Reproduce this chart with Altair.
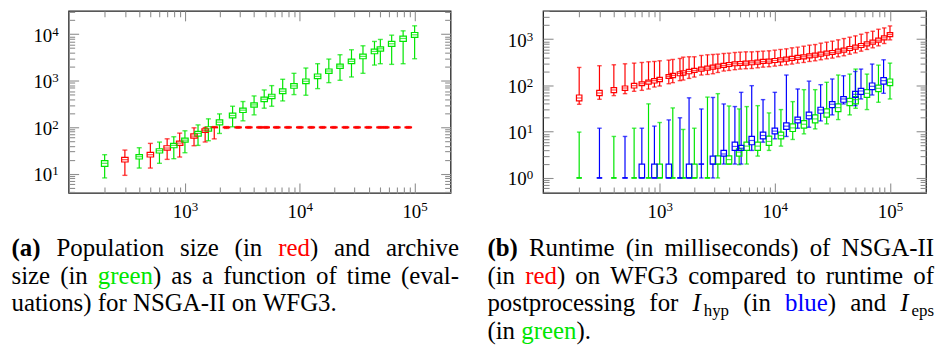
import altair as alt
import pandas as pd

FONT = "Liberation Serif"
RED, GREEN, BLUE = "#ff0000", "#00e600", "#0000ff"

# ---------------- x positions (evaluations) ----------------
x_even = [200, 400, 600, 800, 1000, 1300, 1600, 2000, 2600, 3200, 4000, 4900, 5700,
          7100, 8900, 11300, 14300, 17900, 22400, 28200, 35500, 44700, 50300, 63100,
          79400, 100000]
x_odd = [300, 500, 700, 900, 1200, 1500, 1800, 2300, 2900, 3600, 4500, 5100, 6300,
         7900, 10000, 12600, 15800, 19800, 25000, 31500, 39500, 50000, 56000, 70000,
         88000]
x_run = [200, 300, 400, 500, 600, 700, 800, 900, 1000, 1200, 1300, 1500, 1600, 1800,
         2000, 2300, 2600, 2900, 3200, 3600, 4000, 4500,
         5000, 5600, 6300, 7100, 7900, 8900, 10000, 11200, 12600, 14100, 15800, 17800,
         20000, 22400, 25100, 28200, 31600, 35500, 39800, 44700, 50100, 56200, 63100,
         70800, 79400, 89100, 100000]

# ---------------- panel (a): archive size (green) ----------------
a_arch_lo = [8.1, 13.2, 16.7, 21.0, 28.2, 40.6, 51.1, 73.3, 102, 137, 184, 256, 282,
             367, 502, 486, 675, 908, 1019, 1202, 1439, 2168, 2317, 2244, 2317, 2965]
a_arch_q1 = [14.4, 20.7, 27.8, 36.1, 47.8, 64.3, 82.2, 112, 159, 207, 269, 356, 412,
             527, 687, 865, 1104, 1439, 1841, 2317, 2965, 3793, 4325, 5445, 6982, 8511]
a_arch_med = [16.7, 23.2, 31.2, 40.6, 52.7, 73.3, 92.0, 128, 178, 232, 301, 399, 462,
              592, 771, 971, 1239, 1614, 2065, 2600, 3327, 4256, 4853, 6223, 8091, 9705]
a_arch_q3 = [19.0, 25.6, 34.4, 44.8, 58.2, 80.9, 102, 144, 200, 256, 333, 441, 511,
             664, 865, 1086, 1393, 1782, 2280, 2917, 3733, 4775, 5358, 6982, 9078, 10864]
a_arch_hi = [25.6, 36.1, 47.8, 62.2, 83.6, 112, 151, 193, 282, 356, 470, 632, 783,
             1072, 1439, 1871, 2317, 2917, 3614, 4624, 5636, 6982, 7709, 9528, 11803, 15136]

# ---------------- panel (a): population size (red) ----------------
a_pop_lo = [9.2, 13.2, 20.3, 22.8, 39.9, 48, 56, 94, 95, 95, 95, 95, 95,
            95, 95, 95, 95, 95, 95, 95, 95, 95, 95, 95, 95]
a_pop_q1 = [17.8, 22.8, 32.2, 40.6, 58.2, 77, 97, 97, 97, 97, 97, 97, 97,
            97, 97, 97, 97, 97, 97, 97, 97, 97, 97, 97, 97]
a_pop_med = [20.0, 25.6, 35.6, 45.5, 64.3, 84, 99, 99, 99, 99, 99, 99, 99,
             99, 99, 99, 99, 99, 99, 99, 99, 99, 99, 99, 99]
a_pop_q3 = [22.4, 28.7, 39.9, 50.2, 72.1, 92, 101, 101, 101, 101, 101, 101, 101,
            101, 101, 101, 101, 101, 101, 101, 101, 101, 101, 101, 101]
a_pop_hi = [32.2, 44.8, 56.2, 74.5, 96.8, 98, 103, 103, 103, 103, 103, 103, 103,
            103, 103, 103, 103, 103, 103, 103, 103, 103, 103, 103, 103]

# ---------------- panel (b): NSGA-II runtime (red) ----------------
b_run_lo = [39.2, 50.2, 60.3, 66.5, 74.7, 78.4, 83.8, 92.5, 97.3, 109, 115, 127, 131,
            142, 152, 168, 173, 179, 191, 205, 211, 219,
            226, 230, 233, 241, 249, 254, 262, 271, 280, 290, 304, 314, 330, 341, 359,
            377, 390, 417, 438, 475, 507, 552, 600, 651, 718, 807, 968]
b_run_q1 = [46.2, 60.3, 69.8, 78.4, 88.1, 98.9, 107, 113, 121, 142, 147, 162, 168,
            179, 191, 205, 215, 226, 237, 245, 258, 267,
            271, 275, 280, 290, 299, 304, 314, 325, 336, 347, 365, 377, 396, 409, 431,
            452, 468, 499, 525, 570, 610, 662, 718, 780, 862, 968, 1141]
b_run_med = [53.6, 68.7, 79.8, 88.1, 98.9, 109, 121, 127, 135, 157, 165, 182, 188,
             201, 211, 226, 237, 249, 262, 271, 285, 294,
             299, 304, 309, 320, 330, 336, 347, 359, 371, 383, 403, 417, 438, 452, 475,
             499, 516, 552, 580, 630, 673, 730, 793, 862, 952, 1069, 1262]
b_run_q3 = [62.2, 78.4, 89.5, 97.3, 111, 119, 131, 140, 149, 171, 182, 198, 208,
            222, 233, 249, 262, 275, 290, 299, 314, 325,
            330, 336, 341, 353, 365, 371, 383, 396, 409, 424, 445, 460, 483, 499, 525,
            552, 570, 610, 640, 695, 743, 807, 877, 952, 1051, 1180, 1393]
b_run_hi = [245, 267, 280, 294, 304, 314, 325, 330, 341, 353, 365, 383, 409,
            417, 417, 445, 460, 468, 475, 491, 499, 516,
            525, 533, 533, 542, 552, 561, 580, 600, 619, 651, 673, 706, 743, 767, 821,
            862, 906, 968, 1033, 1104, 1180, 1282, 1393, 1486, 1641, 1754, 1936]

# ---------------- panel (b): I_eps postprocessing (green) ----------------
b_eps_lo = [1, 1, 1, 1, 1, 1, 1, 1, 1, 1, 2, 1.94, 2.0, 2.97, 3.94, 4.88, 6.79, 8.99,
            11.5, 14.8, 18.3, 23.1, 32.1, 30.1, 43.3, 51]
b_eps_q1 = [1, 1, 1, 1, 1, 1, 1, 1, 1, 2, 2, 2.97, 3.94, 3.94, 5.05, 7.02, 10.1, 11.9,
            15.5, 20.6, 27.2, 36.6, 39.8, 55.5, 73.5, 98.9]
b_eps_med = [1, 1, 1, 1, 1, 1, 1, 1, 1, 2, 2.5, 3.62, 4.88, 4.88, 6.15, 8.28, 12.1,
             14.5, 18.9, 25.5, 33.2, 44.7, 49.4, 67.6, 86.7, 117]
b_eps_q3 = [1, 1, 1, 1, 2, 1, 1, 2, 1, 3, 3, 4.27, 5.95, 5.95, 8.02, 9.77, 14.8, 17.4,
            23.1, 31.1, 39.8, 52.8, 57.3, 81.1, 102, 138]
b_eps_hi = [9.8, 7.9, 11.9, 40, 15.8, 32.7, 11.2, 11.9, 56, 66.5, 36, 31.1, 34.9, 36.6,
            25.5, 30.1, 44.7, 81.1, 81.1, 117, 168, 176, 226, 176, 275, 304]

# ---------------- panel (b): I_hyp postprocessing (blue) ----------------
b_hyp_lo = [1, 1, 1, 1, 1, 1, 1, 1, 1, 2, 2, 2, 3.94, 5.95, 7.02, 7.89, 11.9, 12.5,
            17.1, 23.1, 39.8, 36.6, 51, 62.2, 67.6]
b_hyp_q1 = [1, 1, 1, 1, 1, 1, 1, 2, 2, 2.97, 3.94, 3.94, 5.22, 7.02, 8.99, 11.2, 15.5,
            18.9, 25.1, 33.2, 43.3, 55.5, 64.3, 81.1, 107]
b_hyp_med = [1, 1, 1, 1, 1, 1, 1, 2, 2, 3.3, 4.8, 4.4, 6.46, 8.28, 10.3, 13.2, 18.3,
             22.3, 29.6, 39.2, 51, 64.3, 75.9, 95.7, 127]
b_hyp_q3 = [1, 1, 2, 2, 2, 1, 2, 2, 2.97, 3.94, 5.95, 5.05, 7.89, 9.77, 11.9, 15.5,
            20.6, 26.4, 33.8, 44.7, 57.3, 74.7, 86.7, 113, 147]
b_hyp_hi = [11.9, 7.9, 11.9, 13.2, 18, 20, 54, 31, 55, 39.8, 35, 71, 99, 49.4, 71, 168,
            83.8, 124, 104, 138, 162, 201, 226, 290, 359]

# ---------------- axes ----------------
x_domain = [107.4, 186200]
a_y_domain = [3.855, 31700]
b_y_domain = [0.475, 4093]
x_major = [1000, 10000, 100000]
a_y_major = [10, 100, 1000, 10000]
b_y_major = [1, 10, 100, 1000]
x_ticks = [200, 300, 400, 500, 600, 700, 800, 900, 1000, 2000, 3000, 4000, 5000, 6000,
           7000, 8000, 9000, 10000, 20000, 30000, 40000, 50000, 60000, 70000, 80000,
           90000, 100000]
a_y_ticks = [4, 5, 6, 7, 8, 9, 10, 20, 30, 40, 50, 60, 70, 80, 90, 100, 200, 300, 400,
             500, 600, 700, 800, 900, 1000, 2000, 3000, 4000, 5000, 6000, 7000, 8000,
             9000, 10000, 20000, 30000]
b_y_ticks = [0.5, 0.6, 0.7, 0.8, 0.9, 1, 2, 3, 4, 5, 6, 7, 8, 9, 10, 20, 30, 40, 50, 60,
             70, 80, 90, 100, 200, 300, 400, 500, 600, 700, 800, 900, 1000, 2000, 3000,
             4000]

# ---------------- captions (word groups; pieces = text, colour, weight, kind) ----------------
cap_a_lines = [
    (255, True, [[("(a)", "#000", "bold", "n")], [("Population", "#000", "normal", "n")],
                 [("size", "#000", "normal", "n")], [("(in", "#000", "normal", "n")],
                 [("red", RED, "normal", "n"), (")", "#000", "normal", "n")],
                 [("and", "#000", "normal", "n")], [("archive", "#000", "normal", "n")]]),
    (283, True, [[("size", "#000", "normal", "n")], [("(in", "#000", "normal", "n")],
                 [("green", GREEN, "normal", "n"), (")", "#000", "normal", "n")],
                 [("as", "#000", "normal", "n")], [("a", "#000", "normal", "n")],
                 [("function", "#000", "normal", "n")], [("of", "#000", "normal", "n")],
                 [("time", "#000", "normal", "n")], [("(eval-", "#000", "normal", "n")]]),
    (310, False, [[("uations)", "#000", "normal", "n")], [("for", "#000", "normal", "n")],
                  [("NSGA-II", "#000", "normal", "n")], [("on", "#000", "normal", "n")],
                  [("WFG3.", "#000", "normal", "n")]]),
]
cap_b_lines = [
    (255, True, [[("(b)", "#000", "bold", "n")], [("Runtime", "#000", "normal", "n")],
                 [("(in", "#000", "normal", "n")], [("milliseconds)", "#000", "normal", "n")],
                 [("of", "#000", "normal", "n")], [("NSGA-II", "#000", "normal", "n")]]),
    (283, True, [[("(in", "#000", "normal", "n")],
                 [("red", RED, "normal", "n"), (")", "#000", "normal", "n")],
                 [("on", "#000", "normal", "n")], [("WFG3", "#000", "normal", "n")],
                 [("compared", "#000", "normal", "n")], [("to", "#000", "normal", "n")],
                 [("runtime", "#000", "normal", "n")], [("of", "#000", "normal", "n")]]),
    (310, True, [[("postprocessing", "#000", "normal", "n")], [("for", "#000", "normal", "n")],
                 [("I", "#000", "normal", "m"), ("hyp", "#000", "normal", "s")],
                 [("(in", "#000", "normal", "n")],
                 [("blue", BLUE, "normal", "n"), (")", "#000", "normal", "n")],
                 [("and", "#000", "normal", "n")],
                 [("I", "#000", "normal", "m"), ("eps", "#000", "normal", "s")]]),
    (338, False, [[("(in", "#000", "normal", "n")],
                  [("green", GREEN, "normal", "n"), (").", "#000", "normal", "n")]]),
]

CAP_FS = 25
SUB_FS = 17
# Times/Liberation Serif advance widths (1/1000 em), used only to space caption words
TW = {' ': 250, '(': 333, ')': 333, '-': 333, '.': 250, 'A': 722, 'G': 722, 'I': 333,
      'N': 722, 'P': 556, 'R': 667, 'S': 556, 'W': 944, 'F': 556,
      'a': 444, 'b': 500, 'c': 444, 'd': 500, 'e': 444, 'f': 333, 'g': 500, 'h': 500,
      'i': 278, 'l': 278, 'm': 778, 'n': 500, 'o': 500, 'p': 500, 'r': 333, 's': 389,
      't': 278, 'u': 500, 'v': 500, 'y': 500, 'z': 444}
TWB = {'(': 333, ')': 333, 'a': 500, 'b': 556}


def piece_w(t, weight, kind):
    if kind == "m":
        return 0.45 * CAP_FS
    fs = SUB_FS if kind == "s" else CAP_FS
    tab = TWB if weight == "bold" else TW
    return sum(tab.get(ch, TW.get(ch, 500)) for ch in t) * fs / 1000.0


def layout(lines, x0, x1, ox, oy):
    out = []
    for base_y, justify, words in lines:
        widths = [sum(piece_w(t, w, k) for t, c, w, k in wd) for wd in words]
        if justify and len(words) > 1:
            gap = (x1 - x0 - sum(widths)) / (len(words) - 1)
        else:
            gap = TW[' '] * CAP_FS / 1000.0
        x = x0
        for wd, ww in zip(words, widths):
            px = x
            for t, c, w, k in wd:
                out.append(dict(t=t, x=px - ox, y=base_y - oy + (5 if k == "s" else 0),
                                c=c, w=w, fs=SUB_FS if k == "s" else CAP_FS,
                                st="italic" if k == "m" else "normal"))
                px += piece_w(t, w, k)
            x += ww + gap
    return out


def boxes(series, xs, lo, q1, med, q3, hi):
    return pd.DataFrame({"s": series, "x": xs, "lo": lo, "q1": q1, "med": med,
                         "q3": q3, "hi": hi})


df_a = pd.concat([
    boxes("red", x_odd, a_pop_lo, a_pop_q1, a_pop_med, a_pop_q3, a_pop_hi),
    boxes("green", x_even, a_arch_lo, a_arch_q1, a_arch_med, a_arch_q3, a_arch_hi),
], ignore_index=True)
df_b = pd.concat([
    boxes("red", x_run, b_run_lo, b_run_q1, b_run_med, b_run_q3, b_run_hi),
    boxes("green", x_even, b_eps_lo, b_eps_q1, b_eps_med, b_eps_q3, b_eps_hi),
    boxes("blue", x_odd, b_hyp_lo, b_hyp_q1, b_hyp_med, b_hyp_q3, b_hyp_hi),
], ignore_index=True)

cscale = alt.Scale(domain=["red", "green", "blue"], range=[RED, GREEN, BLUE])
EXP = "'' + round(log(datum.value)/LN10)"
MAJ = "abs(log(datum.value)/LN10 - round(log(datum.value)/LN10)) < 0.01"


def panel(df, W, H, ydom, ymajor, yticks, box_w, cap_w, texts_spec):
    xs = alt.Scale(type="log", domain=x_domain, nice=False)
    ys = alt.Scale(type="log", domain=ydom, nice=False)
    col = alt.Color("s:N", scale=cscale, legend=None)
    tick_kw = dict(labels=False, domain=False, grid=False,
                   tickSize={"condition": {"test": MAJ, "value": 10}, "value": 6},
                   tickColor="#8f8f8f", tickWidth=1.1)
    lab_kw = dict(ticks=False, tickSize=0, domain=False, grid=False, labelFont=FONT,
                  labelColor="#000", labelOverlap=False, labelFlush=False,
                  labelBaseline="alphabetic")
    base = alt.Chart(df)
    main = base.mark_rule(strokeWidth=1.2).encode(
        x=alt.X("x:Q", scale=xs, title=None,
                axis=alt.Axis(orient="bottom", values=x_major, labelExpr="'10'",
                              labelFontSize=19, labelPadding=25, labelOffset=-3.3,
                              labelAlign="center", **lab_kw)),
        y=alt.Y("lo:Q", scale=ys, title=None,
                axis=alt.Axis(orient="left", values=ymajor, labelExpr="'10'",
                              labelFontSize=19, labelPadding=17, labelOffset=7,
                              labelAlign="right", **lab_kw)),
        y2="q1:Q", color=col)
    ticks1 = base.mark_rule(opacity=0).encode(
        x=alt.X("x:Q", scale=xs, title=None,
                axis=alt.Axis(orient="top", offset=-H, values=x_ticks, **tick_kw)),
        y=alt.Y("lo:Q", scale=ys, title=None,
                axis=alt.Axis(orient="right", offset=-W, values=yticks, **tick_kw)))
    ticks2 = base.mark_rule(opacity=0).encode(
        x=alt.X("x:Q", scale=xs, title=None,
                axis=alt.Axis(orient="bottom", offset=-H, values=x_ticks, **tick_kw)),
        y=alt.Y("lo:Q", scale=ys, title=None,
                axis=alt.Axis(orient="left", offset=-W, values=yticks, **tick_kw)))
    expo = base.mark_rule(opacity=0).encode(
        x=alt.X("x:Q", scale=xs, title=None,
                axis=alt.Axis(orient="bottom", values=x_major, labelExpr=EXP,
                              labelFontSize=13, labelPadding=18, labelOffset=9.5,
                              labelAlign="center", **lab_kw)),
        y=alt.Y("lo:Q", scale=ys, title=None,
                axis=alt.Axis(orient="left", values=ymajor, labelExpr=EXP,
                              labelFontSize=13, labelPadding=10.5, labelOffset=1,
                              labelAlign="right", **lab_kw)))
    X = alt.X("x:Q", scale=xs, axis=None)
    upper = base.mark_rule(strokeWidth=1.2).encode(
        x=X, y=alt.Y("q3:Q", scale=ys, axis=None), y2="hi:Q", color=col)
    box = base.mark_bar(width=box_w, fillOpacity=0, strokeWidth=1.2, orient="vertical").encode(
        x=X, y=alt.Y("q1:Q", scale=ys, axis=None), y2="q3:Q",
        stroke=alt.Stroke("s:N", scale=cscale, legend=None))
    med = base.mark_tick(orient="horizontal", size=box_w, thickness=1.2).encode(
        x=X, y=alt.Y("med:Q", scale=ys, axis=None), color=col)
    cap_lo = base.mark_tick(orient="horizontal", size=cap_w, thickness=1.4).encode(
        x=X, y=alt.Y("lo:Q", scale=ys, axis=None), color=col)
    cap_hi = base.mark_tick(orient="horizontal", size=cap_w, thickness=1.4).encode(
        x=X, y=alt.Y("hi:Q", scale=ys, axis=None), color=col)
    texts = []
    for s in texts_spec:
        texts.append(
            alt.Chart(alt.Data(values=[{}])).mark_text(
                text=s["t"], align="left", baseline="alphabetic", font=FONT,
                fontSize=s["fs"], fontWeight=s["w"], fontStyle=s["st"],
                color=s["c"]).encode(x=alt.value(s["x"]), y=alt.value(s["y"])))
    return alt.layer(main, ticks1, ticks2, expo, upper, box, med, cap_lo, cap_hi,
                     *texts).properties(width=W, height=H)


txt_a = layout(cap_a_lines, 10, 460, 67.5, 8.3)
txt_b = layout(cap_b_lines, 489, 938, 545, 8.3)

pa = panel(df_a, 384, 183, a_y_domain, a_y_major, a_y_ticks, 6.5, 5, txt_a)
pb = panel(df_b, 385, 183, b_y_domain, b_y_major, b_y_ticks, 5.5, 4.5, txt_b)

chart = alt.hconcat(pa, pb, spacing=93, bounds="flush").properties(
    padding={"left": 2, "right": 0, "top": 0, "bottom": 0}
).configure_view(stroke="#222", strokeWidth=1.3)

chart.save("out.html", embed_options={"renderer": "svg", "actions": False})
